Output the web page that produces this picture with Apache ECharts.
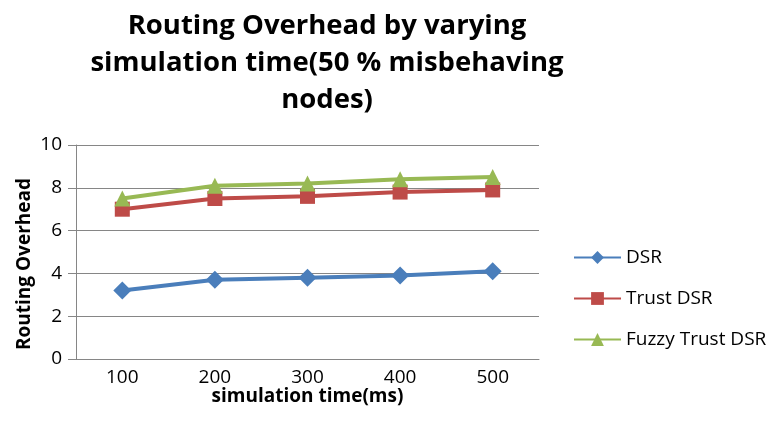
<!DOCTYPE html>
<html>
<head>
<meta charset="utf-8">
<script src="https://cdn.jsdelivr.net/npm/echarts@6/dist/echarts.min.js"></script>
<style>html,body{margin:0;padding:0;background:#fff}#c{width:773px;height:427px}</style>
</head>
<body>
<div id="c"></div>
<script>
const categories = ['100', '200', '300', '400', '500'];
const dsr = [3.2, 3.7, 3.8, 3.9, 4.1];
const trustDsr = [7.0, 7.5, 7.6, 7.8, 7.9];
const fuzzyTrustDsr = [7.5, 8.1, 8.2, 8.4, 8.5];
const seriesNames = ['DSR', 'Trust DSR', 'Fuzzy Trust DSR'];
const titleText = 'Routing Overhead by varying\nsimulation time(50 % misbehaving\nnodes)';
const xName = 'simulation time(ms)';
const yName = 'Routing Overhead';

const FONT = 'Open Sans';
const chart = echarts.init(document.getElementById('c'), null, {renderer: 'canvas'});
const mk = (name, data, color, symbol, size) => ({
  name, type: 'line', data, symbol, symbolSize: size,
  lineStyle: {color, width: 4}, itemStyle: {color},
  animation: false
});
chart.setOption({
  backgroundColor: '#fff',
  animation: false,
  textStyle: {fontFamily: FONT},
  graphic: [{
    type: 'text', x: 327, y: 8,
    style: {text: titleText, textAlign: 'center', textVerticalAlign: 'top', font: 'bold 27.5px ' + FONT, lineHeight: 37, fill: '#000'}
  }],
  grid: {left: 76, right: 234, top: 145, bottom: 68},
  legend: {
    orient: 'vertical', left: 573, top: 248, itemGap: 22, padding: 0,
    itemWidth: 47, itemHeight: 16,
    data: seriesNames,
    textStyle: {fontSize: 19, color: '#000', fontFamily: FONT}
  },
  xAxis: {
    type: 'category', data: categories, boundaryGap: true,
    name: xName, nameLocation: 'middle', nameGap: 28, nameMoveOverlap: false,
    nameTextStyle: {fontSize: 19, fontWeight: 'bold', color: '#000'},
    axisLine: {lineStyle: {color: '#868686', width: 1}},
    axisTick: {show: false},
    axisLabel: {fontSize: 19, color: '#000', margin: 9}
  },
  yAxis: {
    type: 'value', min: 0, max: 10, interval: 2,
    name: yName, nameLocation: 'middle', nameGap: 42, nameMoveOverlap: false,
    nameTextStyle: {fontSize: 19, fontWeight: 'bold', color: '#000', padding: [0, 24, 0, 0]},
    axisLine: {show: true, lineStyle: {color: '#868686'}},
    axisTick: {show: true, inside: false, length: 8, lineStyle: {color: '#868686'}},
    splitLine: {lineStyle: {color: '#868686'}},
    axisLabel: {fontSize: 19, color: '#000', margin: 14}
  },
  series: [
    mk(seriesNames[0], dsr, '#4A7EBB', 'diamond', 18),
    mk(seriesNames[1], trustDsr, '#BE4B48', 'rect', 15),
    mk(seriesNames[2], fuzzyTrustDsr, '#98B954', 'triangle', 16)
  ]
});
</script>
</body>
</html>
